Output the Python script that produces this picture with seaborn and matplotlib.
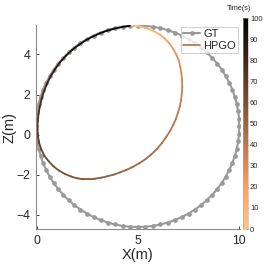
import numpy as np
import pandas as pd
import matplotlib
matplotlib.use("Agg")
import matplotlib.pyplot as plt
from matplotlib.collections import LineCollection
from matplotlib.lines import Line2D
import seaborn as sns

# ---- data ----
gt_center_x = 5.0
gt_center_z = 0.42
gt_radius = 5.02
gt_samples = 84

# HPGO estimated trajectory (clockwise from the top), with time stamps
hpgo_x = [4.69, 4.98, 5.26, 5.56, 5.83, 6.09, 6.32, 6.54, 6.73, 6.89, 7.02,
          7.10, 7.16, 7.19, 7.20, 7.18, 7.14, 7.08, 6.99, 6.89, 6.76, 6.60,
          6.41, 6.19, 5.94, 5.67, 5.38, 5.08, 4.76, 4.44, 4.12, 3.81, 3.50,
          3.20, 2.90, 2.61, 2.32, 2.00, 1.70, 1.39, 1.10, 0.83, 0.60, 0.39,
          0.24, 0.13, 0.07, 0.05, 0.06, 0.10, 0.16, 0.25, 0.36, 0.51, 0.69,
          0.91, 1.15, 1.44, 1.75, 2.09, 2.45, 2.79, 3.14, 3.49, 3.85, 4.23, 4.61]
hpgo_z = [5.44, 5.42, 5.36, 5.27, 5.14, 4.99, 4.81, 4.58, 4.31, 4.03, 3.73,
          3.40, 3.06, 2.73, 2.39, 2.06, 1.73, 1.41, 1.10, 0.80, 0.50, 0.19,
          -0.11, -0.42, -0.72, -0.98, -1.22, -1.42, -1.60, -1.75, -1.88, -1.99, -2.07,
          -2.14, -2.19, -2.22, -2.22, -2.17, -2.08, -1.95, -1.78, -1.57, -1.32, -1.05,
          -0.74, -0.41, -0.06, 0.30, 0.66, 1.03, 1.40, 1.78, 2.15, 2.53, 2.90,
          3.26, 3.60, 3.92, 4.22, 4.48, 4.72, 4.90, 5.06, 5.19, 5.29, 5.37, 5.43]
hpgo_t = [0, 3, 6, 9, 12, 15, 18, 21, 24, 26, 28,
          30, 32, 33.5, 35, 36, 37, 38, 39, 40, 41, 42,
          43, 44, 45, 46, 47, 48, 49, 50, 51, 52, 53,
          54, 55, 56, 57, 58, 59, 60, 61, 62.5, 64, 65.5,
          67, 68.5, 70, 71.5, 73, 75, 77, 79, 80.5, 82, 84,
          86, 88, 89.5, 91, 92.5, 94, 95, 96, 97, 98, 99, 100]

x_ticks = [0, 5, 10]
z_ticks = [-4, -2, 0, 2, 4]
cbar_ticks = list(range(0, 101, 10))

# ---- build ----
ang = np.linspace(0, 2 * np.pi, gt_samples + 1)
gt = pd.DataFrame({
    "x": gt_center_x + gt_radius * np.cos(ang),
    "z": gt_center_z + gt_radius * np.sin(ang),
})

sns.set_theme(style="white")
plt.rcParams["font.family"] = ["Liberation Sans", "DejaVu Sans"]

fig = plt.figure(figsize=(2.66, 2.66), dpi=100)
ax = fig.add_axes([0.135, 0.139, 0.767, 0.767])

gray = "#9a9a9a"
sns.lineplot(data=gt, x="x", y="z", sort=False, ax=ax, color=gray,
             linewidth=1.5, marker="o", markersize=3.4, markeredgewidth=0,
             markerfacecolor=gray, estimator=None)

cmap = plt.get_cmap("copper_r")
norm = plt.Normalize(0, 100)
pts = np.column_stack([hpgo_x, hpgo_z]).reshape(-1, 1, 2)
segs = np.concatenate([pts[:-1], pts[1:]], axis=1)
tmid = (np.array(hpgo_t[:-1]) + np.array(hpgo_t[1:])) / 2
lc = LineCollection(segs, cmap=cmap, norm=norm, linewidth=1.3,
                    capstyle="round", joinstyle="round")
lc.set_array(tmid)
ax.add_collection(lc)

ax.set_xlim(-0.03, 10.05)
ax.set_ylim(-4.70, 5.47)
ax.set_xticks(x_ticks)
ax.set_yticks(z_ticks)
ax.set_xlabel("X(m)", fontsize=10.5, color="#262626", labelpad=1)
ax.set_ylabel("Z(m)", fontsize=10.5, color="#262626", labelpad=0)
ax.tick_params(axis="both", direction="in", length=2.5, width=0.6,
               labelsize=8.8, colors="#262626", pad=4, left=True, bottom=True)
for s in ["top", "right"]:
    ax.spines[s].set_visible(False)
for s in ["left", "bottom"]:
    ax.spines[s].set_color("#8c8c8c")
    ax.spines[s].set_linewidth(0.8)

handles = [
    Line2D([0], [0], color=gray, linewidth=1.5, marker="o", markersize=3.4,
           markeredgewidth=0),
    Line2D([0], [0], color=cmap(norm(40)), linewidth=1.3),
]
leg = ax.legend(handles, ["GT", "HPGO"], loc="upper right", fontsize=8,
                frameon=True, fancybox=False, borderaxespad=0.15,
                handlelength=1.5, handletextpad=0.3, borderpad=0.2,
                labelspacing=0.2)
leg.get_frame().set_edgecolor("#bbbbbb")
leg.get_frame().set_linewidth(0.6)

cax = fig.add_axes([0.913, 0.139, 0.019, 0.793])
sm = plt.cm.ScalarMappable(norm=norm, cmap=cmap)
cb = fig.colorbar(sm, cax=cax, ticks=cbar_ticks)
cb.outline.set_linewidth(0.4)
cb.outline.set_edgecolor("#aaaaaa")
cax.tick_params(labelsize=5.5, direction="in", length=1.5, width=0.4,
                colors="#262626", pad=1.5)
fig.text(0.9, 0.968, "Time(s)", ha="center", va="center", fontsize=5.2,
         color="#262626")

fig.savefig("out.png", dpi=100)
